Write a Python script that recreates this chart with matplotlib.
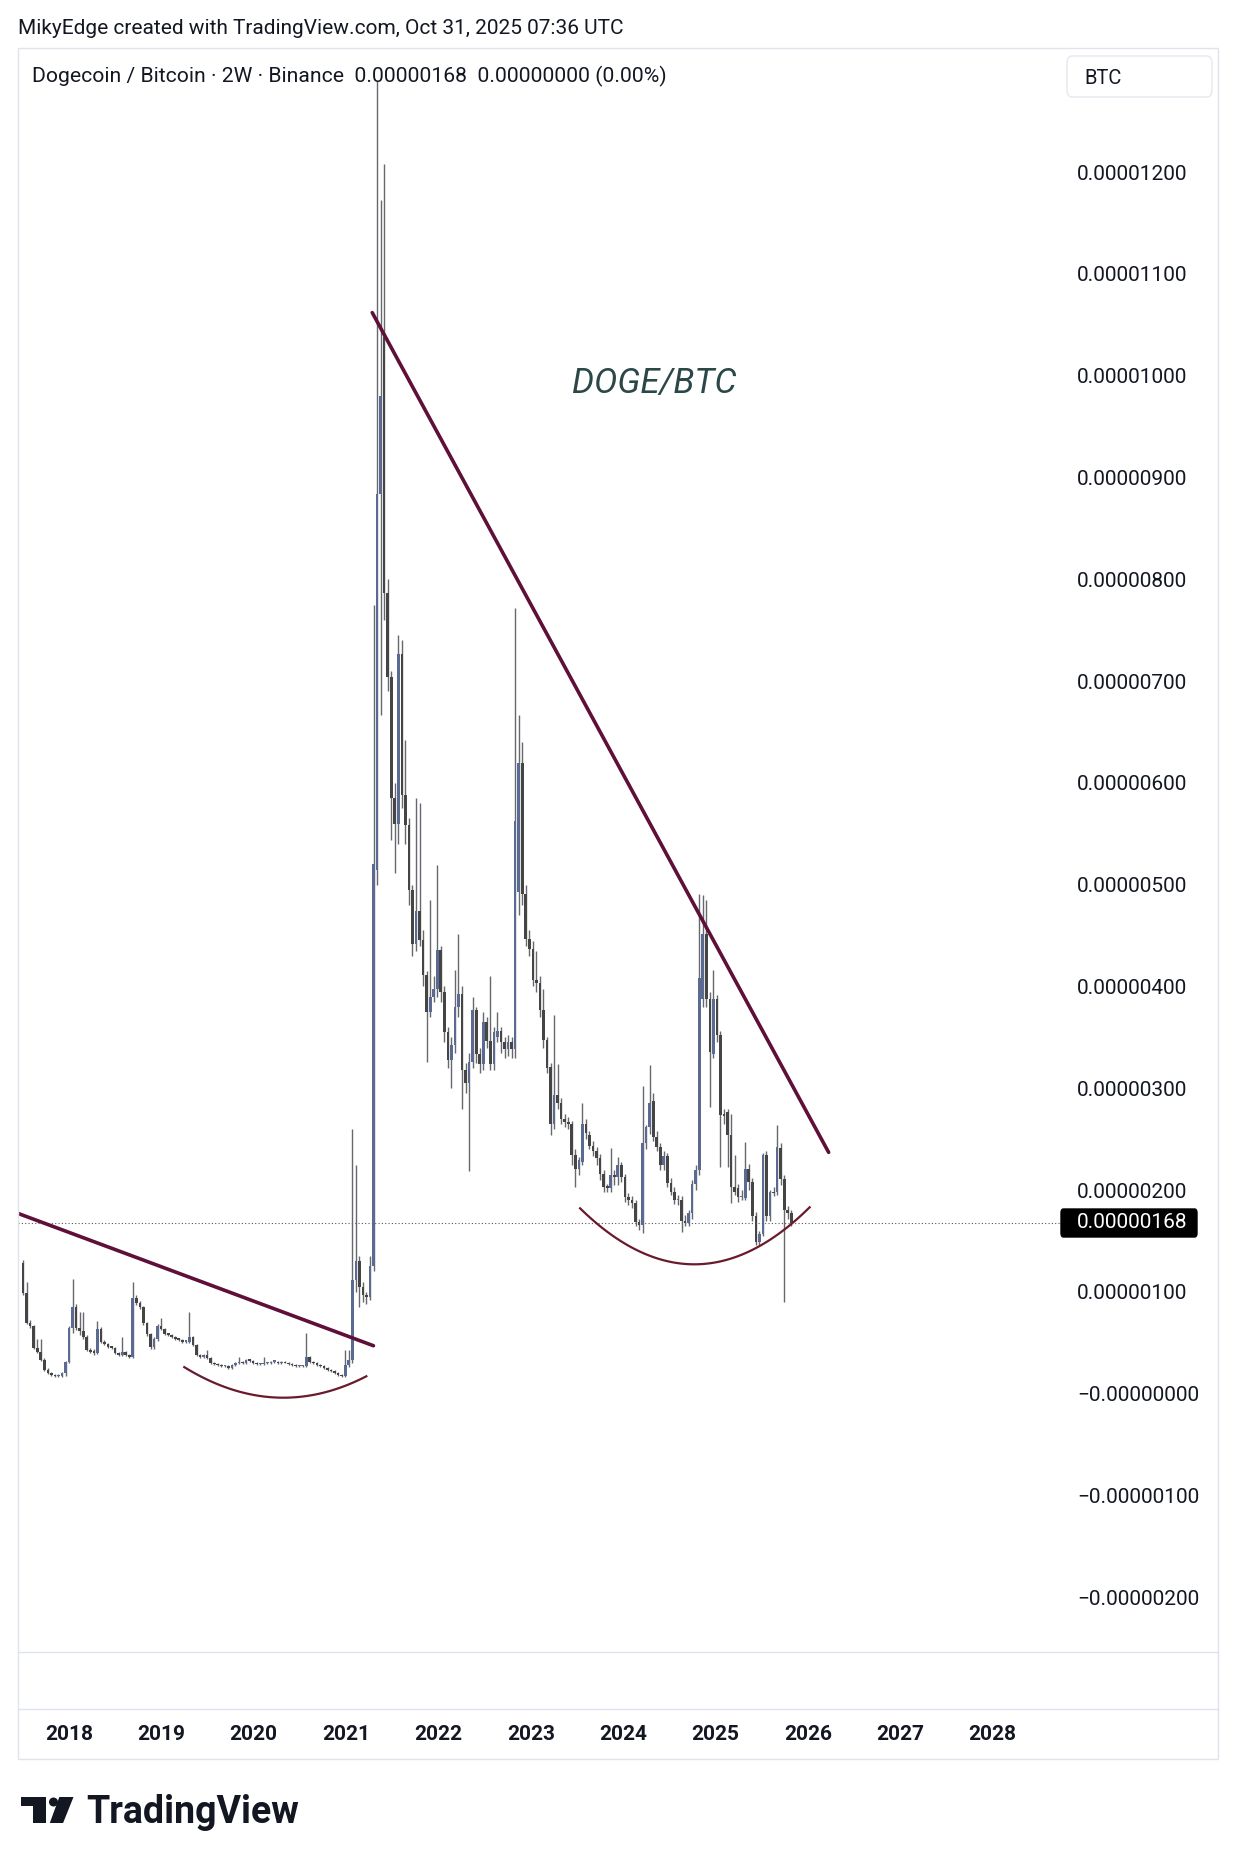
from datetime import datetime

import numpy as np
import pandas as pd
import matplotlib
matplotlib.use('Agg')
import matplotlib.pyplot as plt
import matplotlib.dates as mdates
from matplotlib.patches import Rectangle, FancyBboxPatch, Polygon, Ellipse
from matplotlib.transforms import blended_transform_factory

plt.rcParams['font.family'] = ['Roboto', 'DejaVu Sans']

# 2W candles DOGE/BTC, values in satoshi (1e-8 BTC), first bar 2017-07-03
first_bar = '2017-07-03'
opens = [
    128, 99, 69, 66, 45, 41, 33, 23, 20, 18, 17, 17, 20, 31, 64, 85, 64, 61, 56, 43,
    41, 40, 63, 51, 49, 46, 45, 40, 38, 41, 38, 36, 94, 89, 85, 69, 59, 46, 54, 66,
    63, 59, 58, 56, 54, 53, 51, 51, 56, 48, 38, 36, 38, 35, 30, 29, 28, 27, 27, 25,
    28, 30, 31, 30, 33, 32, 30, 29, 29, 30, 30, 31, 31, 30, 31, 30, 29, 28, 27, 27,
    27, 36, 31, 30, 28, 27, 25, 23, 22, 20, 18, 17, 28, 33, 112, 130, 105, 97, 95, 125,
    514, 884, 1038, 787, 704, 585, 560, 727, 588, 559, 495, 442, 474, 446, 411, 375, 390, 397, 436, 395,
    355, 328, 342, 380, 393, 318, 305, 326, 377, 334, 324, 365, 346, 324, 350, 356, 345, 339, 345, 339,
    493, 620, 491, 447, 437, 406, 403, 377, 347, 321, 265, 293, 285, 270, 267, 265, 234, 221, 228, 265,
    254, 243, 238, 231, 216, 203, 202, 215, 213, 225, 213, 193, 190, 187, 169, 166, 246, 262, 287, 252,
    242, 225, 233, 207, 198, 190, 190, 170, 168, 177, 206, 220, 388, 452, 388, 334, 388, 352, 274, 277,
    254, 203, 202, 193, 192, 221, 208, 174, 149, 157, 234, 174, 198, 198, 241, 211, 180, 177,
]
highs = [
    131, 110, 72, 67, 54, 54, 35, 25, 21, 19, 19, 21, 32, 66, 113, 88, 80, 80, 58, 45,
    44, 71, 65, 53, 50, 47, 46, 41, 56, 42, 39, 110, 97, 91, 86, 70, 60, 56, 68, 74,
    64, 60, 59, 57, 55, 54, 52, 80, 57, 49, 39, 39, 43, 36, 31, 30, 29, 28, 28, 29,
    31, 36, 32, 34, 34, 33, 31, 30, 36, 31, 32, 32, 32, 32, 32, 31, 30, 29, 28, 28,
    60, 37, 32, 31, 29, 28, 26, 24, 23, 21, 19, 43, 43, 260, 225, 135, 110, 100, 135, 775,
    1290, 1173, 1208, 800, 710, 600, 745, 740, 642, 565, 500, 585, 580, 455, 415, 485, 410, 519, 440, 400,
    360, 350, 416, 452, 400, 325, 335, 390, 380, 340, 375, 370, 410, 360, 375, 360, 350, 352, 350, 772,
    667, 640, 500, 455, 445, 435, 410, 397, 350, 325, 372, 324, 290, 275, 272, 268, 240, 232, 285, 270,
    258, 248, 242, 235, 220, 206, 241, 220, 232, 228, 216, 197, 194, 190, 172, 302, 264, 323, 295, 258,
    246, 238, 236, 212, 203, 195, 194, 175, 180, 210, 225, 491, 490, 485, 395, 416, 392, 356, 280, 280,
    275, 234, 206, 200, 247, 226, 212, 178, 160, 236, 238, 200, 203, 264, 246, 215, 184, 180,
]
lows = [
    97, 68, 64, 44, 40, 32, 22, 19, 17, 16, 16, 16, 17, 30, 60, 62, 58, 54, 42, 40,
    38, 39, 50, 48, 45, 44, 39, 37, 37, 37, 35, 35, 87, 83, 67, 57, 44, 44, 52, 62,
    58, 57, 55, 53, 52, 50, 50, 50, 47, 37, 35, 35, 34, 29, 28, 27, 26, 26, 24, 24,
    27, 29, 29, 29, 31, 29, 28, 28, 28, 29, 29, 30, 29, 29, 30, 28, 27, 26, 26, 26,
    26, 30, 29, 27, 26, 24, 22, 21, 19, 17, 16, 16, 26, 30, 100, 85, 90, 88, 92, 120,
    500, 667, 760, 690, 544, 511, 540, 575, 540, 480, 430, 435, 440, 400, 326, 370, 385, 390, 385, 345,
    320, 300, 335, 370, 280, 295, 219, 320, 325, 315, 318, 340, 318, 318, 345, 335, 330, 332, 330, 330,
    470, 480, 440, 430, 400, 395, 370, 340, 315, 254, 260, 280, 265, 262, 260, 225, 203, 215, 225, 250,
    240, 233, 225, 210, 198, 198, 198, 205, 205, 208, 188, 185, 182, 165, 161, 158, 240, 255, 248, 238,
    220, 220, 203, 195, 186, 185, 159, 165, 165, 172, 200, 215, 380, 380, 282, 330, 345, 223, 265, 223,
    187, 195, 188, 190, 190, 200, 170, 146, 146, 155, 170, 170, 194, 195, 205, 90, 172, 165,
]
closes = [
    99, 69, 66, 45, 41, 33, 23, 20, 18, 17, 17, 20, 31, 64, 85, 64, 61, 56, 43, 41,
    40, 63, 51, 49, 46, 45, 40, 38, 41, 38, 36, 94, 89, 85, 69, 59, 46, 54, 66, 63,
    59, 58, 56, 54, 53, 51, 51, 56, 48, 38, 36, 38, 35, 30, 29, 28, 27, 27, 25, 28,
    30, 31, 30, 33, 32, 30, 29, 29, 30, 30, 31, 31, 30, 31, 30, 29, 28, 27, 27, 27,
    36, 31, 30, 28, 27, 25, 23, 22, 20, 18, 17, 28, 33, 112, 130, 105, 97, 95, 125, 520,
    884, 980, 787, 704, 585, 560, 727, 588, 559, 495, 442, 474, 446, 411, 375, 390, 397, 436, 395, 355,
    328, 342, 380, 393, 318, 305, 326, 377, 334, 324, 365, 346, 324, 355, 356, 345, 339, 345, 339, 563,
    620, 491, 447, 437, 406, 403, 377, 347, 320, 265, 293, 285, 270, 267, 265, 234, 221, 229, 265, 256,
    243, 238, 231, 216, 203, 202, 215, 213, 225, 213, 193, 190, 187, 169, 166, 246, 262, 285, 252, 242,
    225, 233, 207, 198, 190, 190, 170, 168, 177, 206, 220, 408, 452, 388, 336, 388, 352, 274, 273, 254,
    203, 198, 193, 194, 221, 208, 174, 149, 157, 234, 174, 198, 197, 242, 211, 180, 177, 168,
]
last_price = 168

# drawings: (decimal year, satoshi)
trend_top = [(2021.282, 1062), (2026.224, 237)]
trend_low = [(2017.447, 177), (2021.295, 47)]
arc_2019 = [(2019.248, 26), (2020.28, -4), (2021.218, 17)]
arc_2024 = [(2023.534, 182), (2024.782, 127), (2026.018, 183)]

price_ticks = list(range(-200, 1300, 100))
years = list(range(2018, 2029))

W, H = 1236, 1864
TXT = '#131722'
LINE = '#e0e3eb'


def fx(px):
    return px / W


def fy(py):
    return 1 - py / H


def yr2num(t):
    y = int(t)
    a = mdates.date2num(datetime(y, 1, 1))
    b = mdates.date2num(datetime(y + 1, 1, 1))
    return a + (t - y) * (b - a)


fig = plt.figure(figsize=(W / 100, H / 100), dpi=100)
fig.patch.set_facecolor('white')

ax = fig.add_axes([fx(18), fy(1652), fx(1064) - fx(18), fy(48) - fy(1652)])
ax.set_facecolor('white')
for s in ax.spines.values():
    s.set_visible(False)

# candles
dates = pd.date_range(first_bar, periods=len(closes), freq='14D')
xs = mdates.date2num(dates.to_pydatetime())
o = np.array(opens, float)
h = np.array(highs, float)
l = np.array(lows, float)
c = np.array(closes, float)
up = c >= o
bot = np.minimum(o, c)
hgt = np.maximum(np.abs(c - o), 1.5)

ax.vlines(xs, l, h, color='#666870', lw=1.0, zorder=2)
ax.bar(xs[up], hgt[up], bottom=bot[up], width=10.5, color='#5a6a92', lw=0, zorder=3)
ax.bar(xs[~up], hgt[~up], bottom=bot[~up], width=10.5, color='#454545', lw=0, zorder=3)

# trend lines and arcs
for seg in (trend_top, trend_low):
    ax.plot([yr2num(t) for t, v in seg], [v for t, v in seg], color='#5e1039',
            lw=2.6, solid_capstyle='round', zorder=4)
for arc in (arc_2019, arc_2024):
    ax_ = np.array([yr2num(t) for t, v in arc])
    ay_ = np.array([v for t, v in arc], float)
    k = np.polyfit(ax_ - ax_[0], ay_, 2)
    xx = np.linspace(ax_[0], ax_[-1], 100)
    ax.plot(xx, np.polyval(k, xx - ax_[0]), color='#6a1a2c', lw=1.6, zorder=4)

# last price dotted line
ax.axhline(last_price, color='#555555', lw=0.8, ls=(0, (1, 2)), zorder=1)

ax.set_xlim(yr2num(2017.4466), yr2num(2028.772))
ax.set_ylim(-253.9, 1322.0)
ax.set_xticks([])


def price_fmt(v, pos):
    s = '%.8f' % (abs(v) * 1e-8)
    return '\u2212' + s if v <= 0 else s


ax.yaxis.tick_right()
ax.set_yticks(price_ticks)
ax.yaxis.set_major_formatter(plt.FuncFormatter(price_fmt))
ax.tick_params(axis='y', length=0, pad=9.4, labelsize=15, labelcolor=TXT)

# current price label
fig.patches.append(FancyBboxPatch((fx(1061), fy(1237)), fx(136), (1237 - 1209) / H,
                                  boxstyle='round,pad=0,rounding_size=0.002',
                                  transform=fig.transFigure, fc='black', ec='black'))
fig.text(fx(1077), fy(1223), price_fmt(last_price, 0), color='white', fontsize=15, va='center')

# frame
fig.patches.append(Rectangle((fx(18), fy(1759)), fx(1200), (1759 - 48) / H, fill=False,
                             ec=LINE, lw=1, transform=fig.transFigure))
for yy in (1652, 1709):
    fig.add_artist(plt.Line2D([fx(18), fx(1218)], [fy(yy), fy(yy)], color=LINE, lw=1,
                              transform=fig.transFigure))

# time axis
tr = blended_transform_factory(ax.transData, fig.transFigure)
for yr in years:
    ax.text(yr2num(yr), fy(1734), str(yr), transform=tr, ha='center', va='center',
            fontsize=15, fontweight='bold', color=TXT, clip_on=False)

# texts
fig.text(fx(18), fy(28), 'MikyEdge created with TradingView.com, Oct 31, 2025 07:36 UTC',
         fontsize=15, color=TXT, va='center')
fig.text(fx(32), fy(76), 'Dogecoin / Bitcoin \u00b7 2W \u00b7 Binance  0.00000168  0.00000000 (0.00%)',
         fontsize=15.2, color=TXT, va='center')
fig.text(fx(654), fy(383), 'DOGE/BTC', fontsize=25, style='italic', color='#2b4747',
         ha='center', va='center')

# BTC box
fig.patches.append(FancyBboxPatch((fx(1067), fy(97)), fx(145), (97 - 56) / H,
                                  boxstyle='round,pad=0,rounding_size=0.004',
                                  transform=fig.transFigure, fc='white', ec='#e6e8ee', lw=1))
fig.text(fx(1084), fy(78), 'BTC', fontsize=14.5, color=TXT, va='center')

# TradingView logo
logo_t = [(21, 1797), (46, 1797), (46, 1823), (32.5, 1823), (32.5, 1806), (21, 1806)]
logo_s = [(59.3, 1797), (73.5, 1797), (63.1, 1823), (49.8, 1823)]
for pts in (logo_t, logo_s):
    fig.patches.append(Polygon([(fx(px), fy(py)) for px, py in pts], closed=True, fc=TXT,
                               ec='none', transform=fig.transFigure))
fig.patches.append(Ellipse((fx(53.5), fy(1802)), 9 / W, 9 / H, fc=TXT, ec='none',
                           transform=fig.transFigure))
fig.text(fx(86), fy(1823), 'TradingView', fontsize=27, fontweight='bold', color=TXT,
         va='baseline')

plt.savefig('out.png', dpi=100, facecolor='white')
